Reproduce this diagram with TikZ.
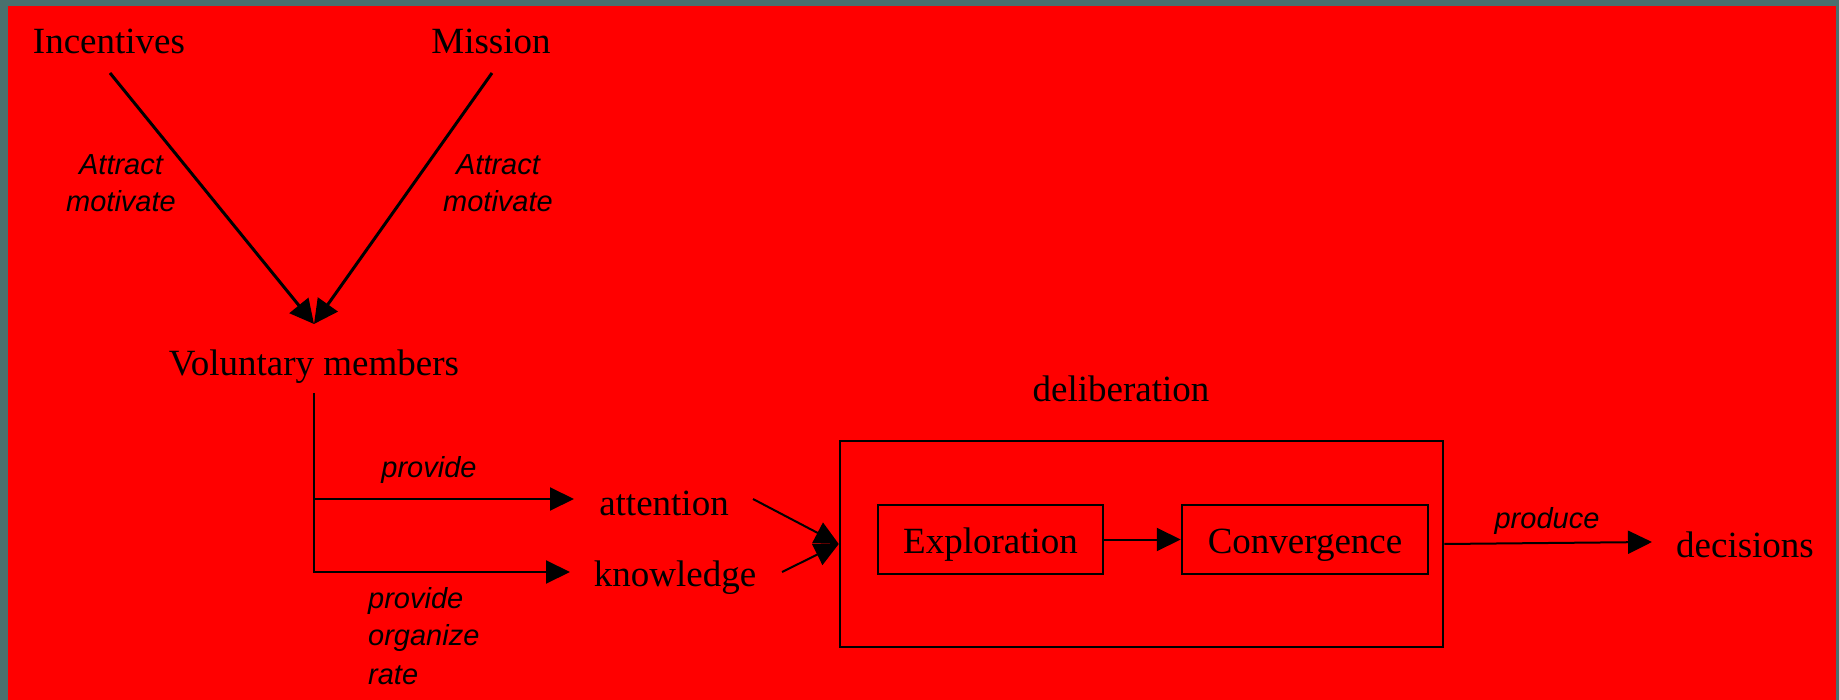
\documentclass[tikz,border=0pt]{standalone}
\usepackage{fontspec}
\setmainfont{Liberation Serif}
\newfontfamily\labfont{Liberation Sans}
\usetikzlibrary{arrows.meta}
\definecolor{framecol}{RGB}{74,112,110}
\definecolor{bgred}{RGB}{255,0,0}
\begin{document}
\begin{tikzpicture}[x=1pt,y=-1pt,
  term/.style={font={\fontsize{37}{40}\selectfont}, inner sep=0pt, anchor=base},
  lab/.style={font={\labfont\itshape\fontsize{29}{32}\selectfont}, inner sep=0pt, anchor=base},
  conn/.style={line width=2pt, -{Triangle[length=24pt,width=23pt]}},
  bigconn/.style={line width=3pt, -{Triangle[length=24pt,width=24pt]}},
  stagebox/.style={draw, line width=2.5pt, inner sep=0pt, text height=28pt, text depth=0pt,
    font={\fontsize{37}{40}\selectfont}, minimum height=69pt}]
\useasboundingbox (0,0) rectangle (1839,700);
\fill[framecol] (0,0) rectangle (1839,700);
\fill[bgred] (8,6) rectangle (1836,700);

% terms
\node[term] (inc) at (109,54) {Incentives};
\node[term] (mis) at (491,54) {Mission};
\node[term] (vm) at (314,376) {Voluntary members};
\node[term] (att) at (664,515) {attention};
\node[term] (know) at (675,586) {knowledge};
\node[term] (delib) at (1121,401) {deliberation};
\node[term] (dec) at (1745,557) {decisions};

% boxes
\node[draw, line width=2.5pt, minimum width=603pt, minimum height=206pt, inner sep=0pt] (dbox) at (1141.5,544) {};
\node[stagebox, minimum width=225pt] (expl) at (990.5,539.5) {Exploration};
\node[stagebox, minimum width=246pt] (conv) at (1305,539.5) {Convergence};

% connector ends
\coordinate (inc-o) at (110,73);
\coordinate (mis-o) at (492,73);
\coordinate (vm-i) at (314,324);
\coordinate (vm-o) at (314,393);
\coordinate (att-i) at (574,499);
\coordinate (know-i) at (570,572);
\coordinate (att-o) at (753,499);
\coordinate (know-o) at (782,572);
\coordinate (dec-i) at (1652,542);

% connectors
\draw[bigconn] (inc-o) -- (vm-i);
\draw[bigconn] (mis-o) -- (vm-i);
\draw[conn] (vm-o) |- (know-i);
\draw[conn] (vm-o |- att-i) -- (att-i);
\draw[conn] (att-o) -- (dbox.west);
\draw[conn] (know-o) -- (dbox.west);
\draw[conn] (expl.east) -- (conv.west);
\draw[conn] (dbox.east) -- (dec-i);

% labels
\node[lab] (a1) at (121,175) {Attract};
\node[lab] (m1) at (121,212) {motivate};
\node[lab] (a2) at (498,175) {Attract};
\node[lab] (m2) at (498,212) {motivate};
\node[lab] (p1) at (429,477) {provide};
\node[lab, anchor=base west] (p2) at (368,608) {provide};
\node[lab, anchor=base west] (o2) at (368,645) {organize};
\node[lab, anchor=base west] (r2) at (368,684) {rate};
\node[lab] (prod) at (1547,528) {produce};
\end{tikzpicture}
\end{document}
